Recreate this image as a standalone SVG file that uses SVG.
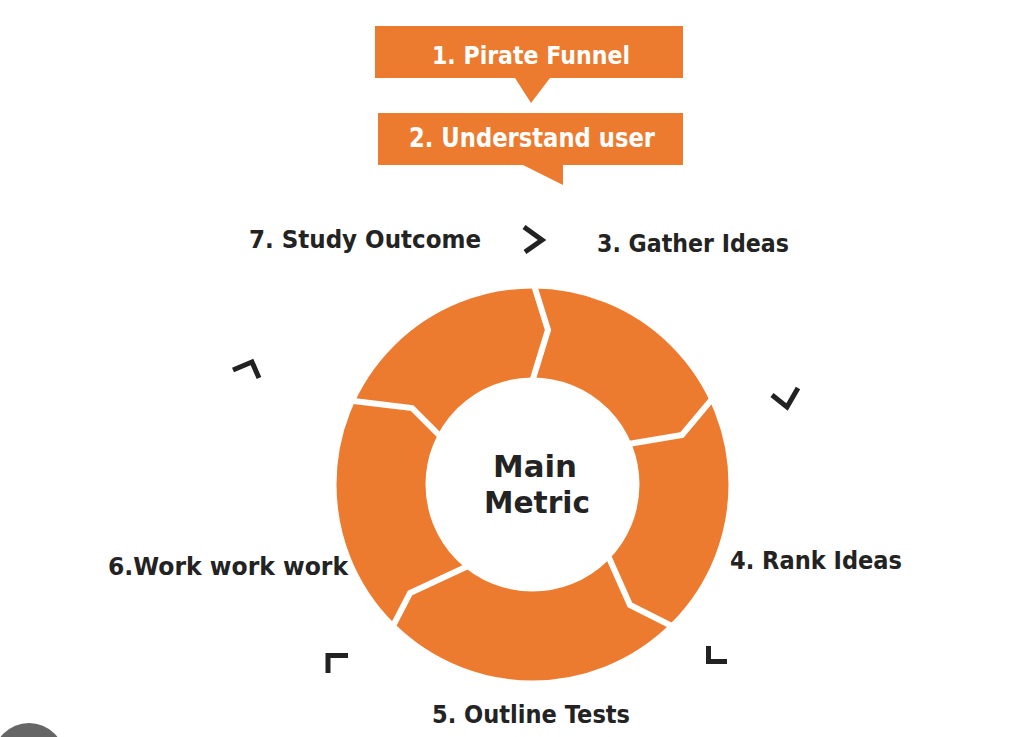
<svg xmlns="http://www.w3.org/2000/svg" width="1024" height="737" viewBox="0 0 1024 737">
<style>
.box{fill:#EC7B30}
.ring{fill:none;stroke:#EC7B30;stroke-width:89}
.sep{fill:none;stroke:#FFFFFF;stroke-width:6;stroke-linejoin:miter}
.chev{fill:none;stroke:#222222;stroke-width:5;stroke-linejoin:miter;stroke-linecap:butt}
.t{font-family:"DejaVu Sans","Liberation Sans",sans-serif;font-weight:bold;font-size:24px;fill:#232323}
.w{fill:#FFFFFF}
</style>
<rect width="1024" height="737" fill="#FFFFFF"/>
<g id="step1">
<path class="box" d="M375,26 H683 V78 H550 L531,103 L515,78 H375 Z"/>
<text class="t w" x="432" y="64" textLength="198" lengthAdjust="spacingAndGlyphs">1. Pirate Funnel</text>
</g>
<g id="step2">
<path class="box" d="M378,113 H683 V165 H563 V185 L523,165 H378 Z"/>
<text class="t w" x="409" y="147" style="font-size:27px" textLength="246" lengthAdjust="spacingAndGlyphs">2. Understand user</text>
</g>
<g id="cycle">
<circle class="ring" cx="532.5" cy="484.5" r="151.5"/>
<polyline class="sep" points="533,282 548,330 532,382"/>
<polyline class="sep" points="713.4,397.4 682,435 628.4,444"/>
<polyline class="sep" points="608.4,556.5 630,605 674.2,627.3"/>
<polyline class="sep" points="468,566 410,593 392.8,626.3"/>
<polyline class="sep" points="349.5,400.5 412,408 439.5,435.5"/>
</g>
<g id="main-metric">
<text class="t" x="493" y="477" style="font-size:31px" textLength="84" lengthAdjust="spacingAndGlyphs">Main</text>
<text class="t" x="484" y="513" style="font-size:31px" textLength="106" lengthAdjust="spacingAndGlyphs">Metric</text>
</g>
<g id="step3">
<text class="t" x="597" y="252" textLength="192" lengthAdjust="spacingAndGlyphs">3. Gather Ideas</text>
</g>
<g id="step4">
<text class="t" x="730" y="569" textLength="172" lengthAdjust="spacingAndGlyphs">4. Rank Ideas</text>
</g>
<g id="step5">
<text class="t" x="432" y="723" textLength="198" lengthAdjust="spacingAndGlyphs">5. Outline Tests</text>
</g>
<g id="step6">
<text class="t" x="108" y="575" textLength="240" lengthAdjust="spacingAndGlyphs">6.Work work work</text>
</g>
<g id="step7">
<text class="t" x="249" y="248" textLength="232" lengthAdjust="spacingAndGlyphs">7. Study Outcome</text>
</g>
<g id="connectors">
<polyline class="chev" points="524,227 542,240 525,252"/>
<polyline class="chev" points="772,395 787,407 798,388"/>
<polyline class="chev" points="708.5,646 708.5,661.5 727,661.5"/>
<polyline class="chev" points="328,673 328,655.5 348,655.5"/>
<polyline class="chev" points="233,370 252,362 259,378"/>
</g>
<circle cx="29" cy="759" r="36" fill="#666666"/>
</svg>
